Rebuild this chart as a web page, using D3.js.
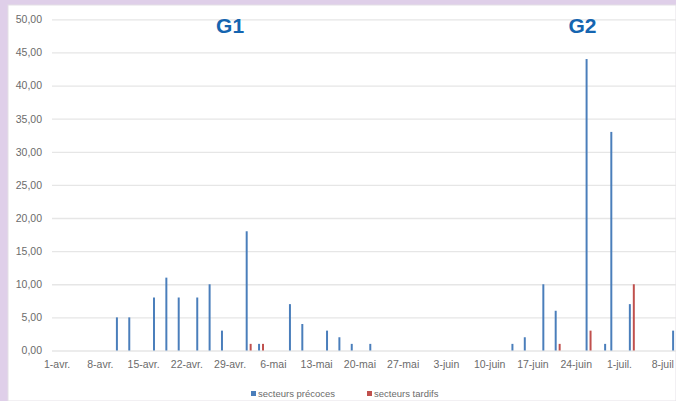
<!DOCTYPE html>
<html><head><meta charset="utf-8">
<script src="https://cdn.jsdelivr.net/npm/d3@7"></script>
<style>html,body{margin:0;padding:0;background:#fff;}svg{display:block;}</style>
</head><body>
<svg id="c" width="676" height="401"></svg>
<script>
// Data (day of measurement, values per series)
const dates = ["2019-04-11","2019-04-13","2019-04-17","2019-04-19","2019-04-21","2019-04-24","2019-04-26","2019-04-28",
  "2019-05-02","2019-05-04","2019-05-09","2019-05-11","2019-05-15","2019-05-17","2019-05-19","2019-05-22",
  "2019-06-14","2019-06-16","2019-06-19","2019-06-21","2019-06-26","2019-06-29","2019-06-30","2019-07-03","2019-07-10"];
const precoces = [5,5,8,11,8,8,10,3, 18,1,7,4,3,2,1,1, 1,2,10,6,44,1,33,7,3];
const tardifs  = [0,0,0,0,0,0,0,0, 1,1,0,0,0,0,0,0, 0,0,0,1,3,0,0,10,0];
const seriesNames = ["secteurs précoces","secteurs tardifs"];
const seriesColors = ["#4a7ebb","#c0504d"];
const tickLabels = ["1-avr.","8-avr.","15-avr.","22-avr.","29-avr.","6-mai","13-mai","20-mai","27-mai","3-juin","10-juin","17-juin","24-juin","1-juil.","8-juil"];
const yTicks = [0,5,10,15,20,25,30,35,40,45,50];
const groupLabels = [{text:"G1", date:"2019-04-29"},{text:"G2", date:"2019-06-25"}];

const W = 676, H = 401;
const svg = d3.select("#c");
// frame
svg.append("rect").attr("x",0).attr("y",0).attr("width",W).attr("height",H).attr("fill","#dfcfe9");
svg.append("rect").attr("x",8).attr("y",5).attr("width",W-8).attr("height",H-5).attr("fill","#ffffff").attr("stroke","#e4e0e6").attr("stroke-width",1);

const parse = d3.timeParse("%Y-%m-%d");
const start = parse("2019-04-01");
const allDays = d3.timeDay.range(start, d3.timeDay.offset(start, 106));
const key = d => d3.timeFormat("%Y-%m-%d")(d);
const dayStep = 6.18;
const plotLeft = 54;
const x = d3.scaleBand().domain(allDays.map(key)).range([plotLeft, plotLeft + allDays.length*dayStep]).paddingInner(0).paddingOuter(0);
const xs = d3.scaleBand().domain(seriesNames).range([0, x.bandwidth()]).paddingInner(0.5).paddingOuter(0.03);
const y = d3.scaleLinear().domain([0,50]).range([350.5, 19.3]);

const locale = d3.formatLocale({decimal:",", thousands:" ", grouping:[3], currency:["","€"]});
const fmt = locale.format(".2f");

// y axis + gridlines
const yAxis = svg.append("g").attr("transform",`translate(${plotLeft-2},0)`)
  .call(d3.axisLeft(y).tickValues(yTicks).tickFormat(fmt).tickSize(-(W-plotLeft+2)).tickPadding(10));
yAxis.select(".domain").remove();
yAxis.selectAll(".tick line").attr("stroke","#e6e6e6").attr("stroke-width",1.3);
yAxis.selectAll(".tick text").attr("fill","#6b6b6b").attr("font-family","Liberation Sans, Arial, sans-serif").attr("font-size","10.5px");

// x axis labels
const weekly = tickLabels.map((t,i)=>key(d3.timeDay.offset(start, i*7)));
const xAxis = svg.append("g").attr("transform",`translate(0,${y(0)})`)
  .call(d3.axisBottom(x).tickValues(weekly).tickFormat((d,i)=>tickLabels[i]).tickSize(0).tickPadding(10));
xAxis.select(".domain").remove();
xAxis.selectAll(".tick text").attr("fill","#6b6b6b").attr("font-family","Liberation Sans, Arial, sans-serif").attr("font-size","10.5px");

// bars
const rows = dates.map((d,i)=>({date:d, vals:[precoces[i], tardifs[i]]}));
const g = svg.append("g");
rows.forEach(r=>{
  r.vals.forEach((v,j)=>{
    if(v<=0) return;
    g.append("rect")
      .attr("x", x(r.date) + xs(seriesNames[j]))
      .attr("width", xs.bandwidth())
      .attr("y", y(v))
      .attr("height", y(0)-y(v))
      .attr("fill", seriesColors[j]);
  });
});

// group labels
groupLabels.forEach(gl=>{
  svg.append("text").attr("x", x(gl.date)+x.bandwidth()/2).attr("y",33)
    .attr("text-anchor","middle").attr("font-family","Liberation Sans, Arial, sans-serif")
    .attr("font-weight","bold").attr("font-size","21px").attr("fill","#1565b0").text(gl.text);
});

// legend
const lg = svg.append("g").attr("font-family","Liberation Sans, Arial, sans-serif").attr("font-size","9.5px").attr("fill","#6b6b6b");
const legendX = [251, 367];
seriesNames.forEach((n,i)=>{
  lg.append("rect").attr("x",legendX[i]).attr("y",391).attr("width",5).attr("height",5).attr("fill",seriesColors[i]);
  lg.append("text").attr("x",legendX[i]+7).attr("y",397).text(n);
});
</script>
</body></html>
